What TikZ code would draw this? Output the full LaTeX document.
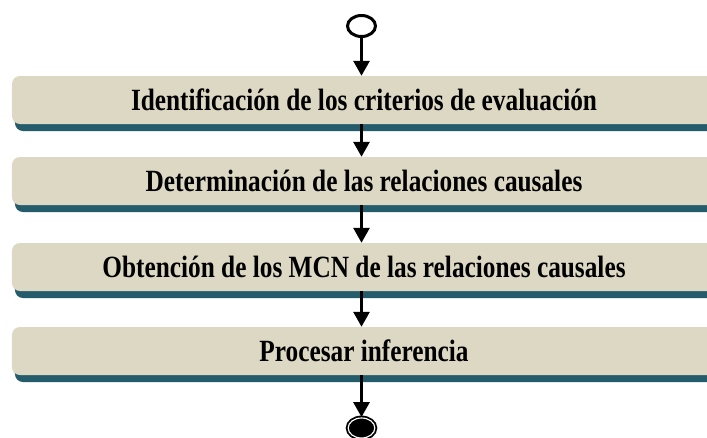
\documentclass[tikz,border=0pt]{standalone}
\usepackage{fontspec}
\setmainfont{Liberation Serif}
\usetikzlibrary{arrows.meta,positioning,shapes.geometric,shadows}
\definecolor{boxbeige}{RGB}{221,216,195}
\definecolor{shadowteal}{RGB}{36,92,107}
% activity texts are set narrow and tall
\newcommand{\acttext}[1]{\scalebox{1.0}[1.22]{#1}}
\tikzset{
    activity/.style={draw=none, fill=boxbeige, rounded corners=0.24cm,
        minimum width=21.12cm, minimum height=1.44cm, inner sep=0pt,
        font=\fontsize{21.6}{26}\selectfont\bfseries,
        drop shadow={shadow xshift=0.09cm, shadow yshift=-0.21cm,
            fill=shadowteal, opacity=1}},
    initial/.style={ellipse, draw=black, line width=0.09cm, inner sep=0pt,
        minimum width=0.84cm, minimum height=0.63cm},
    final/.style={ellipse, draw=black, fill=black, line width=0.055cm,
        double=white, double distance=0.035cm, inner sep=0pt,
        minimum width=0.8cm, minimum height=0.6cm},
    flow/.style={draw=black, line width=0.09cm,
        -{Triangle[width=0.48cm,length=0.45cm]}},
}
\begin{document}
\begin{tikzpicture}[x=0.03cm, y=-0.03cm]
		\clip (0,0) rectangle (707,437);
		\fill[white] (0,0) rectangle (707,437);
		\node[initial] (start) at (361.5,26) {};
		\node[activity] (crit) at (364,100) {\acttext{Identificación de los criterios de evaluación}};
		\node[activity] (rel) at (364,181) {\acttext{Determinación de las relaciones causales}};
		\node[activity] (mcn) at (364,267) {\acttext{Obtención de los MCN de las relaciones causales}};
		\node[activity] (inf) at (364,351) {\acttext{Procesar inferencia}};
		\node[final] (stop) at (361.5,428) {};
		\draw[flow] (start) -- (start |- crit.north);
		\draw[flow] (start |- crit.south) -- (start |- rel.north);
		\draw[flow] (start |- rel.south) -- (start |- mcn.north);
		\draw[flow] (start |- mcn.south) -- (start |- inf.north);
		\draw[flow] (start |- inf.south) -- (stop);
\end{tikzpicture}
\end{document}
